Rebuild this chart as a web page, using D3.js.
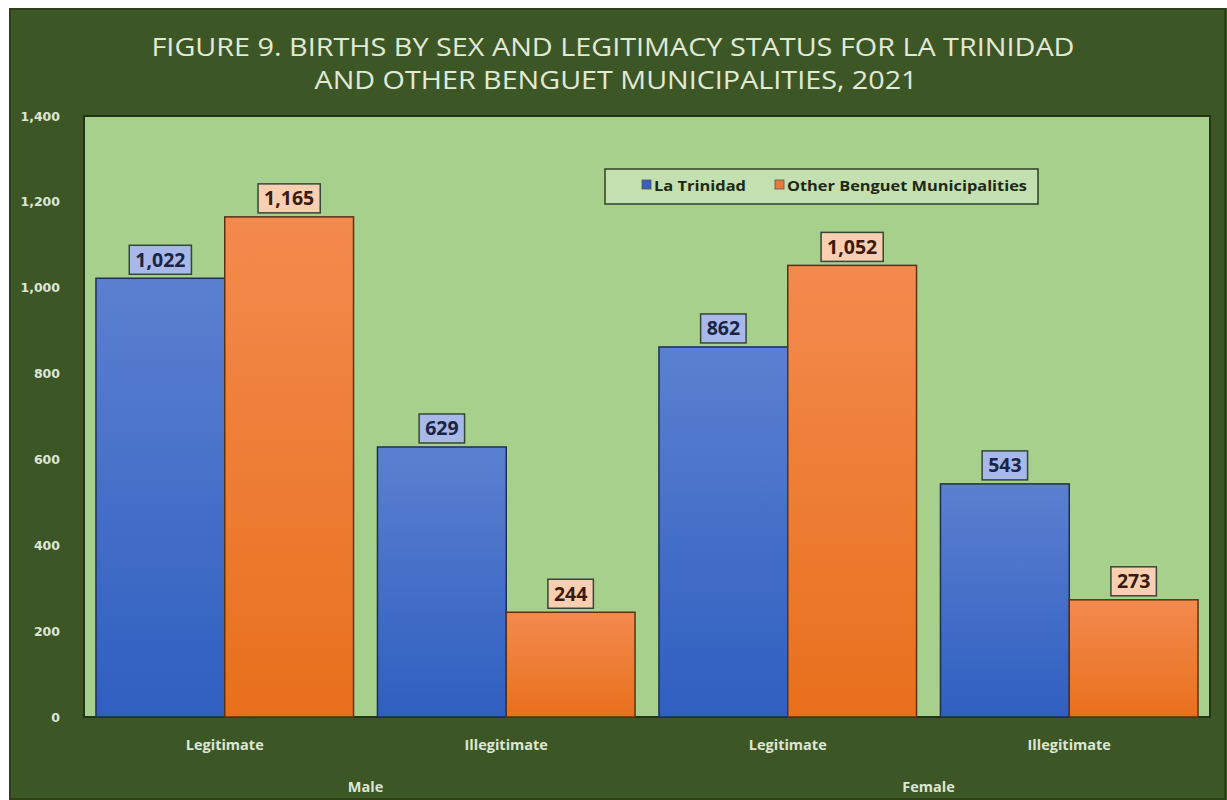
<!DOCTYPE html>
<html>
<head>
<meta charset="utf-8">
<script src="https://cdn.jsdelivr.net/npm/d3@7"></script>
<style>
  html, body { margin: 0; padding: 0; background: #ffffff; }
  svg { display: block; }
</style>
</head>
<body>
<svg id="chart" width="1227" height="800"></svg>
<script>
const titleLines = ["FIGURE 9. BIRTHS BY SEX AND LEGITIMACY STATUS FOR LA TRINIDAD", "AND OTHER BENGUET MUNICIPALITIES, 2021"];
const sexGroups = ["Male", "Female"];
const statuses = ["Legitimate", "Illegitimate"];
const categories = ["Male|Legitimate", "Male|Illegitimate", "Female|Legitimate", "Female|Illegitimate"];
const seriesNames = ["La Trinidad", "Other Benguet Municipalities"];
const laTrinidad = [1022, 629, 862, 543];
const otherBenguet = [1165, 244, 1052, 273];
const yTicks = [0, 200, 400, 600, 800, 1000, 1200, 1400];

const W = 1227, H = 800;
const svg = d3.select("#chart");
const defs = svg.append("defs");

const m = { left: 84, right: 1210, top: 116, bottom: 717 };

// frame
svg.append("rect").attr("x", 9).attr("y", 8).attr("width", W - 9).attr("height", H - 8).attr("fill", "#3d5626");
svg.append("rect").attr("x", 10).attr("y", 9).attr("width", W - 12).attr("height", H - 10)
  .attr("fill", "none").attr("stroke", "#2c4019").attr("stroke-width", 2);

// title
const titleFont = "'Open Sans', 'Liberation Sans', sans-serif";
svg.append("text").attr("x", 613).attr("y", 56).attr("text-anchor", "middle")
  .attr("font-family", titleFont).attr("font-weight", "normal").attr("font-size", 26).attr("fill", "#e1ead6")
  .attr("textLength", 923).attr("lengthAdjust", "spacingAndGlyphs")
  .text(titleLines[0]);
svg.append("text").attr("x", 616).attr("y", 89).attr("text-anchor", "middle")
  .attr("font-family", titleFont).attr("font-weight", "normal").attr("font-size", 26).attr("fill", "#e1ead6")
  .attr("textLength", 603).attr("lengthAdjust", "spacingAndGlyphs")
  .text(titleLines[1]);

// plot area
svg.append("rect").attr("x", m.left).attr("y", m.top).attr("width", m.right - m.left).attr("height", m.bottom - m.top)
  .attr("fill", "#a8d08d").attr("stroke", "#233517").attr("stroke-width", 2);

const y = d3.scaleLinear().domain([0, 1400]).range([m.bottom, m.top]);
const x0 = d3.scaleBand().domain(categories).range([m.left, m.right]).paddingInner(0.085).paddingOuter(0.0425);
const x1 = d3.scaleBand().domain(seriesNames).range([0, x0.bandwidth()]).padding(0);

// gradients
function grad(id, top, bottom) {
  const g = defs.append("linearGradient").attr("id", id).attr("x1", 0).attr("y1", 0).attr("x2", 0).attr("y2", 1);
  g.append("stop").attr("offset", "0%").attr("stop-color", top);
  g.append("stop").attr("offset", "100%").attr("stop-color", bottom);
}
grad("gBlue", "#5b80d0", "#2f5fc0");
grad("gOrange", "#f38a4e", "#e8701c");

const series = [
  { name: seriesNames[0], values: laTrinidad, fill: "url(#gBlue)", stroke: "#1e2f55", label: "#a8b8e8", text: "#1a2545", sw: "#3a5fb8" },
  { name: seriesNames[1], values: otherBenguet, fill: "url(#gOrange)", stroke: "#5a3212", label: "#f9cfb2", text: "#3a1a0c", sw: "#e9793a" }
];

// y axis
const yAxis = d3.axisLeft(y).tickValues(yTicks).tickFormat(d3.format(",")).tickSize(0).tickPadding(0);
const ya = svg.append("g").attr("transform", `translate(60,0)`).call(yAxis);
ya.select(".domain").remove();
ya.selectAll("text").attr("font-family", "'DejaVu Sans', Verdana, sans-serif").attr("font-weight", "bold")
  .attr("font-size", 12.5).attr("fill", "#dde6d4");

// bars
const fmt = d3.format(",");
series.forEach(s => {
  const g = svg.append("g");
  g.selectAll("rect").data(categories).join("rect")
    .attr("x", c => x0(c) + x1(s.name))
    .attr("y", (c, i) => y(s.values[i]))
    .attr("width", x1.bandwidth())
    .attr("height", (c, i) => y(0) - y(s.values[i]))
    .attr("fill", s.fill).attr("stroke", s.stroke).attr("stroke-width", 1.5);
});

// data labels
const lblFont = "'Open Sans', 'Liberation Sans', sans-serif";
series.forEach(s => {
  categories.forEach((c, i) => {
    const cx = x0(c) + x1(s.name) + x1.bandwidth() / 2;
    const boxBottom = y(s.values[i]) - 4;
    const boxH = 29;
    const t = svg.append("text").attr("x", cx).attr("y", boxBottom - boxH / 2 + 7)
      .attr("text-anchor", "middle").attr("font-family", lblFont).attr("font-weight", "bold")
      .attr("font-size", 19.5).attr("fill", s.text).text(fmt(s.values[i]));
    const bb = t.node().getBBox();
    svg.insert("rect", () => t.node())
      .attr("x", bb.x - 6).attr("y", boxBottom - boxH).attr("width", bb.width + 12).attr("height", boxH)
      .attr("fill", s.label).attr("stroke", "#364636").attr("stroke-width", 1.5);
  });
});

// category labels
const catFont = "'Open Sans', 'Liberation Sans', sans-serif";
categories.forEach(c => {
  svg.append("text").attr("x", x0(c) + x0.bandwidth() / 2).attr("y", 750).attr("text-anchor", "middle")
    .attr("font-family", catFont).attr("font-weight", "bold").attr("font-size", 14.5).attr("fill", "#dde6d4")
    .text(c.split("|")[1]);
});
sexGroups.forEach(sx => {
  const cs = categories.filter(c => c.startsWith(sx + "|"));
  const cx = (x0(cs[0]) + x0(cs[cs.length - 1]) + x0.bandwidth()) / 2;
  svg.append("text").attr("x", cx).attr("y", 792).attr("text-anchor", "middle")
    .attr("font-family", catFont).attr("font-weight", "bold").attr("font-size", 14.5).attr("fill", "#dde6d4")
    .text(sx);
});

// legend
const lg = svg.append("g");
lg.append("rect").attr("x", 605).attr("y", 169).attr("width", 433).attr("height", 35)
  .attr("fill", "#c4dfb0").attr("stroke", "#2f3f2a").attr("stroke-width", 1.5);
const legX = [642, 775];
const legW = [92, 240];
series.forEach((s, i) => {
  lg.append("rect").attr("x", legX[i]).attr("y", 180).attr("width", 9).attr("height", 9)
    .attr("fill", s.sw).attr("stroke", "#555").attr("stroke-width", 0.8);
  lg.append("text").attr("x", legX[i] + 12).attr("y", 190.5)
    .attr("font-family", catFont).attr("font-weight", "bold").attr("font-size", 15).attr("fill", "#1c2a14")
    .attr("textLength", legW[i]).attr("lengthAdjust", "spacingAndGlyphs")
    .text(s.name);
});
</script>
</body>
</html>
